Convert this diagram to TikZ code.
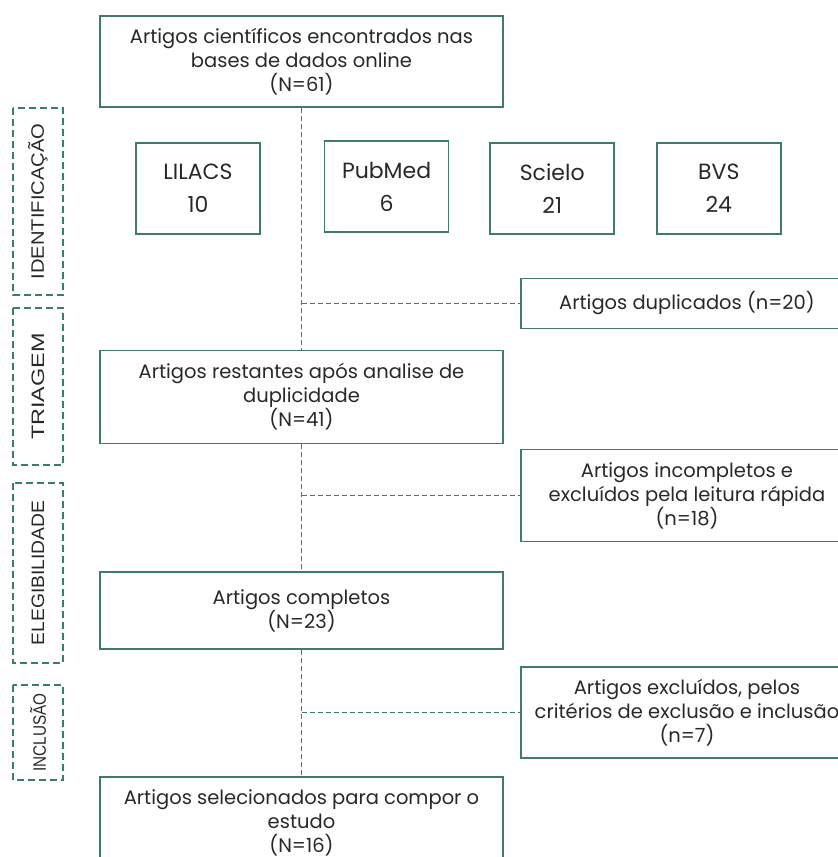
\documentclass[tikz,border=0pt]{standalone}
\usepackage{fontspec}
\setmainfont{Poppins}
\newfontfamily\stagefont{Liberation Sans}
\usetikzlibrary{positioning}
\definecolor{boxclr}{RGB}{62,125,100}
\definecolor{lineclr}{RGB}{55,128,98}
\definecolor{txtclr}{RGB}{40,40,40}
\tikzset{ %
  ,every node/.style={font=\fontsize{19.5}{24}\selectfont, text=txtclr}
  ,mainbox/.style={draw=boxclr, line width=1.6pt, align=center, minimum width=403pt, inner sep=0}
  ,srcbox/.style={draw=boxclr, line width=1.6pt, align=center, minimum width=124pt, minimum height=91pt, inner sep=0, font=\fontsize{22}{33}\selectfont}
  ,outbox/.style={draw=boxclr, line width=1.6pt, align=center, minimum width=332pt, inner sep=0}
  ,stage/.style={draw=lineclr, dash pattern=on 7pt off 4pt, line width=1.2pt, rotate=90, inner sep=0, minimum height=50pt, font=\stagefont\fontsize{18}{18}\selectfont}
  ,link/.style={draw=lineclr, dash pattern=on 5pt off 3pt, line width=1.4pt}
}

\begin{document}
\begin{tikzpicture}
  \useasboundingbox (0,0) rectangle (838pt,-857pt);
  \draw
  node[mainbox, minimum height=91pt] (found) at (301.5pt,-61.5pt) {Artigos científicos encontrados nas\\bases de dados online\\(N=61)}
  node[srcbox] (lilacs) at (198pt,-188.5pt) {LILACS\\10}
  node[srcbox, right=63pt of lilacs, yshift=2pt] (pubmed) {PubMed\\6}
  node[srcbox, right=40pt of pubmed, yshift=-2pt] (scielo) {Scielo\\21}
  node[srcbox, right=41pt of scielo] (bvs) {BVS\\24}
  node[mainbox, minimum height=93pt, below=242pt of found] (rest) {Artigos restantes após analise de\\duplicidade\\(N=41)}
  node[mainbox, minimum height=77pt, below=127pt of rest] (comp) {Artigos completos\\(N=23)}
  node[mainbox, minimum height=92pt, below=126pt of comp] (sel) {Artigos selecionados para compor o\\estudo\\(N=16)}
  node[outbox, minimum height=50pt] (dup) at (687pt,-303.5pt) {Artigos duplicados (n=20)}
  node[outbox, minimum height=92pt] (inc) at (687pt,-495.5pt) {Artigos incompletos e\\excluídos pela leitura rápida\\(n=18)}
  node[outbox, minimum height=91pt] (excl) at (687pt,-712.5pt) {Artigos excluídos, pelos\\critérios de exclusão e inclusão\\(n=7)}
  node[stage, minimum width=187pt] (ident) at (38pt,-201.5pt) {\scalebox{1.12}[1]{IDENTIFICAÇÃO}}
  node[stage, minimum width=157pt] (triag) at (38pt,-386.5pt) {\scalebox{1.3}[1]{TRIAGEM}}
  node[stage, minimum width=180pt] (eleg) at (38pt,-573pt) {\scalebox{1.07}[1]{ELEGIBILIDADE}}
  node[stage, minimum width=95pt] (incl) at (38pt,-732.5pt) {\scalebox{0.85}[1]{INCLUSÃO}};
  \draw [link] (found) edge (rest) (rest) edge (comp) (comp) edge (sel)
  (found.south |- dup.west) edge (dup.west)
  (found.south |- inc.west) edge (inc.west)
  (found.south |- excl.west) edge (excl.west);
\end{tikzpicture}
\end{document}
